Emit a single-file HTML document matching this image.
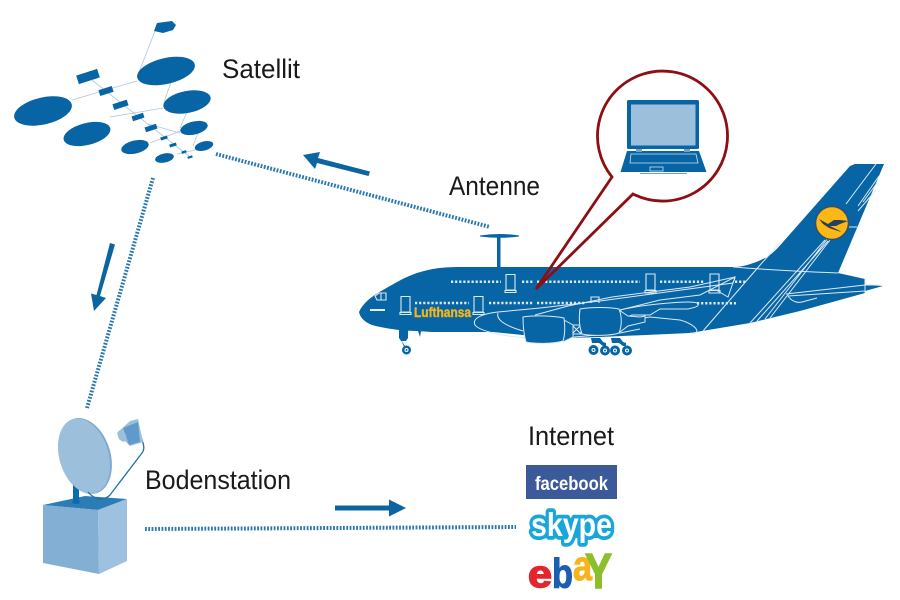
<!DOCTYPE html>
<html><head><meta charset="utf-8"><style>
html,body{margin:0;padding:0;background:#fff;width:900px;height:600px;overflow:hidden}
svg{display:block}
text{font-family:"Liberation Sans Narrow","Liberation Sans",sans-serif;fill:#1a1a1a}
</style></head><body>
<svg width="900" height="600" viewBox="0 0 900 600" xmlns="http://www.w3.org/2000/svg">
<rect width="900" height="600" fill="#fff"/>
<!-- satellite -->
<g stroke="#a9c6dc" stroke-width="0.8" fill="none">
<path d="M155 31L139 72M72 100L137 81M171 82L164 102M110 117L163 108M187 112L180 128M148 124L180 133M198 133L193 146M150 143L180 131M177 154L195 150M88 77L190 157"/>
</g>
<g fill="#0765a5">
<path d="M157 23L172 21L176 25L173 30L163 33L154 31Z"/>
<ellipse cx="166" cy="71" rx="29.5" ry="13" transform="rotate(-13 166 71)"/>
<ellipse cx="43" cy="111" rx="29.5" ry="13.5" transform="rotate(-13 43 111)"/>
<ellipse cx="187" cy="102" rx="24" ry="11" transform="rotate(-11 187 102)"/>
<ellipse cx="87" cy="134" rx="24" ry="11" transform="rotate(-14 87 134)"/>
<ellipse cx="194" cy="128" rx="14" ry="6.5" transform="rotate(-13 194 128)"/>
<ellipse cx="135" cy="147" rx="14" ry="6.5" transform="rotate(-13 135 147)"/>
<ellipse cx="204" cy="146" rx="9.5" ry="4.5" transform="rotate(-15 204 146)"/>
<ellipse cx="164.500" cy="158" rx="9.500" ry="4.500" transform="rotate(-12 164.500 158)"/>
<rect x="77" y="72" width="22" height="9" transform="rotate(-18 88 76.500)"/>
<rect x="99" y="88" width="14" height="6" transform="rotate(-18 106 91)"/>
<rect x="113" y="102" width="15" height="6" transform="rotate(-18 120 105)"/>
<rect x="132" y="114.500" width="12" height="5" transform="rotate(-18 138 117)"/>
<rect x="145" y="125.500" width="12" height="5" transform="rotate(-18 151 128)"/>
<rect x="160.500" y="136.500" width="7" height="3" transform="rotate(-18 164 138)"/>
<rect x="169.500" y="143.500" width="7" height="3" transform="rotate(-18 173 145)"/>
<rect x="181.500" y="150.800" width="5" height="2.400" transform="rotate(-18 184 152)"/>
<rect x="187.500" y="156" width="5" height="2.200" transform="rotate(-18 190 157)"/>
</g>
<!-- dotted links -->
<g stroke="#2b78ae" stroke-width="4" stroke-dasharray="1.800 1.500" fill="none">
<path d="M216 154L490 227"/>
<path d="M153 178L87 408"/>
<path d="M145 529L516 527"/>
</g>
<!-- arrows -->
<g fill="#0d659f" stroke="none">
<path d="M370 171.500L318 158L320 152L303 155L315 169L317 163L368.500 176Z"/>
<path d="M110 243L115 244.500L100 296L106 298L94 311L91 293.500L96.500 295Z"/>
<path d="M335 505.500H389V499.500L406 508L389 516.500V510.500H335Z"/>
</g>
<!-- labels -->
<text x="222" y="78" font-size="27" textLength="78" lengthAdjust="spacingAndGlyphs">Satellit</text>
<text x="449" y="195" font-size="27" textLength="91" lengthAdjust="spacingAndGlyphs">Antenne</text>
<text x="145" y="489" font-size="27" textLength="146" lengthAdjust="spacingAndGlyphs">Bodenstation</text>
<text x="528" y="445" font-size="27" textLength="86" lengthAdjust="spacingAndGlyphs">Internet</text>
<!-- antenna -->
<path d="M480 236Q500 233 519 236Q500 238.500 480 236Z" fill="#0765a5" stroke="#0765a5"/>
<rect x="497" y="236" width="3.500" height="32" fill="#0765a5"/>
<!-- plane -->
<path d="M359 312C363 303 372 296 383 290C395 283 405 277 417 273C430 269 440 267 460 267L733 267C745 267 757 262 767 257C772 254 778 248 783 242L850 166L855 164L884 164L838 273L865 279V285L883 286L865 291V293L800 311L750 323L690 333L600 337L567 338L523 335L493 332L432 332L417 331C400 331 383 328 372 325C364 322 360 317 359 312Z" fill="#0765a5"/>
<g fill="#0765a5">
<path d="M399 330H408V338L406 341H401L399 338Z"/>
<path d="M401 340L405 346L409 347L405 349Z"/>
<path d="M418 331L421 331L420 337Z"/>
<circle cx="406.500" cy="350" r="4.500"/>
<path d="M591 338H600L603 342L606 343V346H603L599 343H592ZM611 338H620L623 342L626 343V346H623L619 343H612Z"/>
<circle cx="593.500" cy="350" r="5"/><circle cx="605" cy="350.500" r="5"/><circle cx="615" cy="350.500" r="5"/><circle cx="627" cy="350.500" r="5"/>
</g>
<g fill="#fff"><circle cx="406.500" cy="350" r="2"/><circle cx="593.500" cy="350" r="2"/><circle cx="605" cy="350.500" r="2"/><circle cx="615" cy="350.500" r="2"/><circle cx="627" cy="350.500" r="2"/></g>
<g fill="#0765a5"><circle cx="406.500" cy="350" r="1"/><circle cx="593.500" cy="350" r="1"/><circle cx="605" cy="350.500" r="1"/><circle cx="615" cy="350.500" r="1"/><circle cx="627" cy="350.500" r="1"/></g>
<!-- windows -->
<g stroke="#dce9f3" stroke-width="2.500" stroke-dasharray="2.200 1.900" fill="none">
<path d="M451 281.700H501M522 281.700H533M537 281.700H640M660 281.700H704M735 281.700H746"/>
<path d="M415 303H469M489 303H533M537 303H586"/>
<path d="M697 303.300H736"/>
</g>
<!-- doors -->
<g fill="none" stroke="#dce9f3" stroke-width="1.100">
<path d="M506 274.500H515V290H506ZM505 290.500H516V292.500H505Z"/>
<path d="M646 274H655V290H646ZM645 290.500H656V293H645Z"/>
<path d="M710 274H719V290H710ZM709 290.500H720V293H709Z"/>
<path d="M401 296.500H410V312H401ZM400 312.500H411V314.500H400Z"/>
<path d="M474 296.500H483V312H474ZM473 312.500H484V314.500H473Z"/>
<path d="M591 303V297H599V303"/>
<path d="M375 296L379 293H386V300H377ZM381 293V300"/>
</g>
<path d="M370 310H385" stroke="#fff" stroke-width="1.800"/>
<!-- wing and fuselage detail -->
<g fill="none" stroke="#dce9f3" stroke-width="1">
<path d="M498 312C480 314 472 319 475 325C480 332 510 337 528 338"/>
<path d="M498 312L540 308L600 301L733 283L735 278"/>
<path d="M498 313C496 319 503 325 523 331"/>
<path d="M535 315L568 306L612 297L690 287L735 277"/>
<path d="M620 310L660 300L700 295L735 277L728 297L716 290"/>
<path d="M620 310C640 305 690 300 697 303C700 306 697 307 688 309H660L650 315H632L620 320"/>
<path d="M623 321L650 317L680 320C698 325 702 335 690 333"/>
<path d="M620 333L640 329"/>
<path d="M733 267C745 268 790 271 838 273"/>
<path d="M703 331L761 264L780 243"/>
<path d="M750 323L825 240M757 321L828 241M765 319L828 238M770 318L830 240"/>
<path d="M846 204L876 164"/>
<path d="M849 227H857"/>
<path d="M858 211L876 190M863 202L877 183M858 206L879 176"/>
<path d="M786 294L865 285M788 296L865 291M865 285H880"/>
<path d="M788 296C792 302 798 303 802 302L817 298"/>
<path d="M865 279V293"/>
<path d="M563 338L620 333"/>
</g>
<!-- engines -->
<g fill="#0765a5" stroke="#dce9f3" stroke-width="1">
<path d="M572 325H581V334H572ZM572 325L581 334M581 325L572 334"/>
<path d="M564 320L573 325V337L563 342"/>
<path d="M619 310L628 316L640 317L645 316V322L628 326L620 332"/>
<path d="M580 309C590 307 610 307 619 309C622 316 622 326 619 333C610 336 590 336 582 334C579 326 579 316 580 309Z"/>
<path d="M523 317C535 315 555 316 564 318C565 326 565 335 563 341C553 344 535 344 526 342C524 335 523 325 523 317Z"/>
</g>
<!-- Lufthansa -->
<text x="414" y="317" font-size="14" font-weight="700" textLength="57" lengthAdjust="spacingAndGlyphs" style="font-family:'Liberation Sans',sans-serif;fill:#f2b61c;stroke:#f2b61c;stroke-width:.4">Lufthansa</text>
<!-- logo -->
<circle cx="832" cy="223" r="16.500" fill="#fdb813" stroke="#324f6f" stroke-width="1.500"/>
<path d="M819 219L828 224L834 220L840 220L848 221L840 224L836 226L830 226L840 231L841 232L829 228L823 224Z" fill="#26405e"/>
<!-- callout -->
<path d="M612 177L536 289L633 194A65 65 0 1 0 612 177Z" fill="none" stroke="#8d0f14" stroke-width="2.800" stroke-linejoin="miter"/>
<path d="M536 290L541 281L546 281Z" fill="#8d0f14"/>
<!-- laptop -->
<rect x="627" y="100" width="72" height="49" rx="1.500" fill="#0765a5"/>
<rect x="631" y="104.500" width="64.500" height="41" fill="#9cc0dc"/>
<path d="M627 151H699L706.500 172H620.500Z" fill="#0765a5"/>
<path d="M631 154H696L698 163H630Z" fill="none" stroke="#cfe0ee" stroke-width="0.800"/>
<rect x="650" y="167" width="13" height="4" fill="none" stroke="#cfe0ee" stroke-width="0.800"/>
<rect x="636" y="149" width="6" height="3" fill="#6fa2c8"/><rect x="684" y="149" width="6" height="3" fill="#6fa2c8"/>
<rect x="640" y="173" width="47" height="1" fill="#6fa2c8"/>
<!-- dish & box -->
<path d="M43 505L85 496L127 499L98 510Z" fill="#2c7db6"/>
<path d="M43 505L98 510L99 574L43 563Z" fill="#82afd3"/>
<path d="M98 510L127 499V561L99 574Z" fill="#9dc1de"/>
<rect x="73" y="480" width="6" height="22" fill="#0d6cae"/>
<ellipse cx="76" cy="502" rx="4" ry="2" fill="#0d6cae"/>
<ellipse cx="85" cy="456" rx="25.500" ry="39" fill="#7daad0" transform="rotate(-17 85 456)"/>
<ellipse cx="84" cy="456" rx="24.500" ry="38.500" fill="#9cc0dc" transform="rotate(-17 84 456)"/>
<path d="M88 492C94 499 103 502 110 495L142 453C145 449 144 445 141 437L138 430" fill="none" stroke="#1e70ad" stroke-width="1.300"/>
<path d="M117 433L130 421L138 419L143 442L130 446Z" fill="#9cc0dc"/>
<path d="M123 428L138 422L140 442L129 445Z" fill="#5f9aca"/>
<ellipse cx="122" cy="436" rx="4" ry="6" fill="#9cc0dc" transform="rotate(-25 122 436)"/>
<!-- facebook -->
<rect x="526" y="465" width="91" height="34" fill="#3c5a99"/>
<text x="535" y="490" font-size="19" font-weight="700" textLength="73" lengthAdjust="spacingAndGlyphs" style="font-family:'Liberation Sans',sans-serif;fill:#fff">facebook</text>
<!-- skype -->
<rect x="532" y="518" width="78" height="20" rx="9" fill="#18a7d8"/>
<text x="531" y="536" font-size="33" font-weight="700" textLength="81" lengthAdjust="spacingAndGlyphs" style="font-family:'Liberation Sans',sans-serif;fill:#fff;stroke:#18a7d8;stroke-width:7.500;paint-order:stroke;stroke-linejoin:round">skype</text>
<!-- ebay -->
<g font-weight="700">
<text x="528" y="587" font-size="38" textLength="24" lengthAdjust="spacingAndGlyphs" style="fill:#e5252d;stroke:#e5252d;stroke-width:1.500;font-family:'Liberation Sans',sans-serif">e</text>
<text x="573" y="580" font-size="42" textLength="19" lengthAdjust="spacingAndGlyphs" style="fill:#f5b51b;stroke:#f5b51b;stroke-width:1;font-family:'Liberation Sans',sans-serif">a</text>
<text x="585" y="588" font-size="49" textLength="27" lengthAdjust="spacingAndGlyphs" style="fill:#8cbf2c;stroke:#8cbf2c;stroke-width:1.500;font-family:'Liberation Sans',sans-serif">Y</text>
<text x="552" y="588" font-size="42" textLength="21" lengthAdjust="spacingAndGlyphs" style="fill:#1c5fb0;stroke:#1c5fb0;stroke-width:1;font-family:'Liberation Sans',sans-serif">b</text>
</g>
</svg>
</body></html>
